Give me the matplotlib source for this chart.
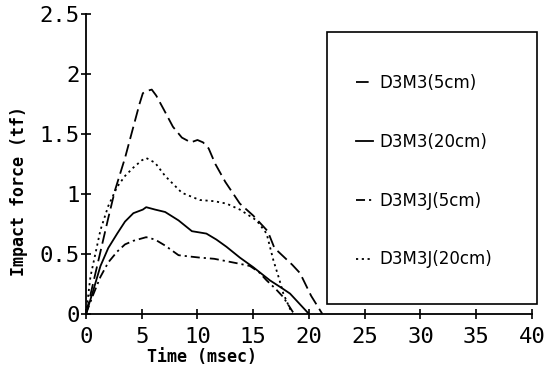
import matplotlib
matplotlib.use('Agg')
import matplotlib.pyplot as plt
from matplotlib.patches import Rectangle

t_d3m3_5 = [0, 1.0, 2.0, 2.6, 3.5, 4.25, 4.8, 5.1, 5.5, 5.9, 6.3, 7.0, 7.8, 8.6, 9.4, 10.0, 10.5, 11.0, 11.6, 12.5, 13.8, 15.0, 16.3, 16.9, 17.7, 18.5, 19.2, 20.2, 21.2]
f_d3m3_5 = [0, 0.40, 0.80, 1.03, 1.30, 1.56, 1.75, 1.84, 1.86, 1.87, 1.82, 1.70, 1.56, 1.47, 1.43, 1.45, 1.43, 1.38, 1.25, 1.10, 0.92, 0.82, 0.69, 0.55, 0.48, 0.41, 0.34, 0.15, 0.0]

t_d3m3_20 = [0, 0.6, 1.3, 2.0, 2.8, 3.5, 4.25, 5.1, 5.4, 6.2, 7.1, 8.3, 9.5, 10.8, 11.7, 12.6, 13.8, 15.0, 16.5, 17.5, 18.3, 19.2, 20.0]
f_d3m3_20 = [0, 0.18, 0.40, 0.55, 0.67, 0.77, 0.84, 0.87, 0.89, 0.87, 0.85, 0.78, 0.69, 0.67, 0.62, 0.56, 0.47, 0.39, 0.28, 0.22, 0.17, 0.08, 0.0]

t_d3m3j_5 = [0, 0.6, 1.3, 2.0, 2.8, 3.5, 4.25, 5.4, 6.2, 7.1, 8.3, 9.2, 10.2, 11.5, 12.6, 13.7, 14.7, 15.5, 16.2, 17.0, 17.7, 18.6]
f_d3m3j_5 = [0, 0.15, 0.31, 0.43, 0.52, 0.58, 0.61, 0.64, 0.62, 0.57, 0.49, 0.48, 0.47, 0.46, 0.44, 0.42, 0.40, 0.35, 0.28, 0.21, 0.14, 0.01]

t_d3m3j_20 = [0, 0.4, 1.3, 2.0, 2.8, 3.5, 4.25, 5.0, 5.4, 6.2, 7.1, 8.6, 10.2, 11.5, 12.6, 13.8, 15.3, 16.2, 16.8, 17.3, 17.7, 18.5]
f_d3m3j_20 = [0, 0.31, 0.70, 0.90, 1.06, 1.15, 1.22, 1.28, 1.30, 1.26, 1.15, 1.01, 0.95, 0.94, 0.92, 0.87, 0.78, 0.67, 0.45, 0.30, 0.17, 0.0]

labels = ['D3M3(5cm)', 'D3M3(20cm)', 'D3M3J(5cm)', 'D3M3J(20cm)']
xticks = [0, 5, 10, 15, 20, 25, 30, 35, 40]
yticks = [0, 0.5, 1, 1.5, 2, 2.5]
ytick_labels = ['0', '0.5', '1', '1.5', '2', '2.5']

fig = plt.figure(figsize=(5.59, 3.73), dpi=100)
ax = fig.add_axes([0.1538, 0.1582, 0.7979, 0.8043])

lw = 1.3
ax.plot(t_d3m3_5, f_d3m3_5, color='k', lw=lw, dashes=(7, 3), label=labels[0])
ax.plot(t_d3m3_20, f_d3m3_20, color='k', lw=lw, ls='-', label=labels[1])
ax.plot(t_d3m3j_5, f_d3m3j_5, color='k', lw=lw, dashes=(5, 2.2, 1.2, 2.2), label=labels[2])
ax.plot(t_d3m3j_20, f_d3m3j_20, color='k', lw=lw, dashes=(1.2, 2), label=labels[3])

ax.set_xlim(0, 40)
ax.set_ylim(0, 2.5)
for s in ['top', 'right']:
    ax.spines[s].set_visible(False)
for s in ['left', 'bottom']:
    ax.spines[s].set_linewidth(1.3)
ax.set_xticks(xticks)
ax.set_yticks(yticks)
ax.set_yticklabels(ytick_labels)
ax.tick_params(direction='inout', length=7, width=1.2, labelsize=16)
ax.tick_params(axis='x', pad=6)
ax.tick_params(axis='y', pad=1)
for lab in ax.get_xticklabels() + ax.get_yticklabels():
    lab.set_family('DejaVu Sans Mono')

fig.text(0.362, 0.043, 'Time (msec)', family='DejaVu Sans Mono', fontsize=12,
         fontweight='bold', ha='center', va='center')
fig.text(0.034, 0.488, 'Impact force (tf)', family='DejaVu Sans Mono', fontsize=12,
         fontweight='bold', ha='center', va='center', rotation=90)

# legend box
fig.patches.append(Rectangle((0.585, 0.185), 0.376, 0.729, transform=fig.transFigure,
                             fill=False, edgecolor='k', lw=1.2))
leg = ax.legend(loc='upper left', bbox_to_anchor=(0.61, 0.842), bbox_transform=fig.transFigure,
                frameon=False, handlelength=1.0, handletextpad=0.4, labelspacing=2.45,
                prop={'family': 'DejaVu Sans', 'size': 12})

fig.savefig('out.png', dpi=100)
